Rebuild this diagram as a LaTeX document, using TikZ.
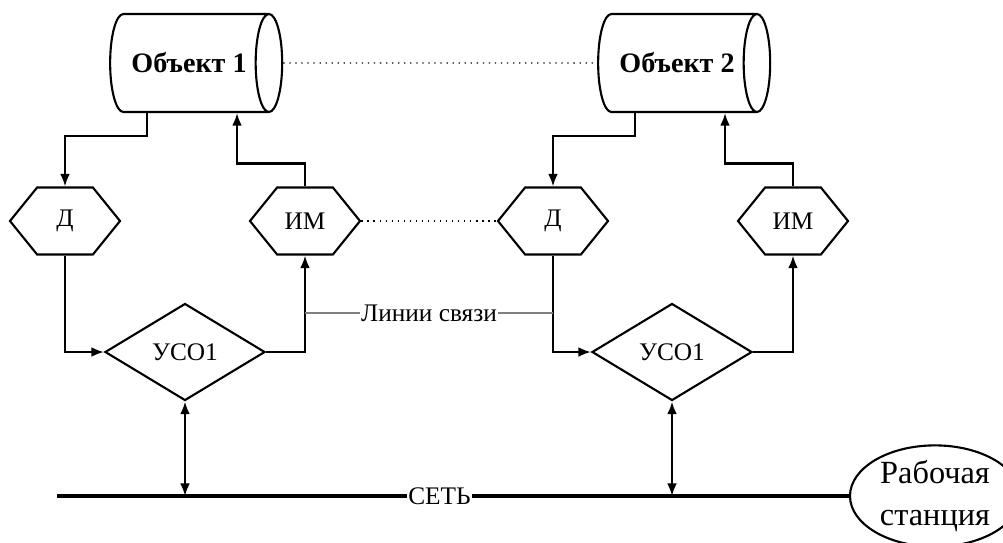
\documentclass[tikz,border=0pt]{standalone}
\usepackage{fontspec}
\setmainfont{Liberation Serif}
\usetikzlibrary{arrows.meta,positioning,shapes.geometric,shapes.symbols}

\begin{document}
\begin{tikzpicture}[
      x=0.025cm, y=-0.025cm,
      myobject/.style={
         cylinder,
         draw=black,
         line width=1.5pt,
         aspect=1.3,
         inner sep=0pt,
         minimum width=2.45cm,
         minimum height=4.3cm,
         font=\fontsize{20}{22}\selectfont\bfseries},
      myhex/.style={
         signal,
         signal to=east and west,
         signal pointer angle=102,
         draw=black,
         line width=1.5pt,
         inner sep=0pt,
         minimum width=2.75cm,
         minimum height=1.675cm,
         font=\fontsize{18}{21}\selectfont},
      mydiamond/.style={
         diamond,
         draw=black,
         line width=1.5pt,
         aspect=1.65,
         inner sep=0pt,
         minimum width=4cm,
         minimum height=2.425cm,
         font=\fontsize{18}{21}\selectfont},
      mystation/.style={
         ellipse,
         draw=black,
         line width=1.5pt,
         inner sep=0pt,
         minimum width=4.25cm,
         minimum height=2.5cm,
         align=center,
         font=\fontsize{23}{30}\selectfont},
      myarrow/.style={-{Latex[length=9pt,width=7pt]},line width=1.5pt},
      mydbl/.style={{Latex[length=9pt,width=7pt]}-{Latex[length=9pt,width=7pt]},line width=1.5pt},
      mydots/.style={line width=0.9pt,dash pattern=on 0.9pt off 3.4pt},
      mylabel/.style={fill=white,inner sep=1pt,font=\fontsize{18}{21}\selectfont}
      ]
      \useasboundingbox (0,0) rectangle (1003,542);

      \node[myobject] (ob1) at (189,63) {Объект 1\hspace{0.5cm}};
      \node[myobject] (ob2) at (677,63) {Объект 2\hspace{0.5cm}};

      \node[myhex] (d1) at (65,221) {Д};
      \node[myhex] (im1) at (305,221) {ИМ};
      \node[myhex] (d2) at (553,221) {Д};
      \node[myhex] (im2) at (793,221) {ИМ};

      \node[mydiamond] (uso1) at (185,352) {УСО1};
      \node[mydiamond] (uso2) at (672,352) {УСО1};

      \node[mystation] (ws) at (935,496) {Рабочая\\станция};

      \coordinate (net) at (57,496);
      \coordinate (n1) at (185,496);
      \coordinate (n2) at (672,496);
      \coordinate (l1) at (305,313);
      \coordinate (l2) at (553,313);

    \foreach \o/\d/\m in {ob1/d1/im1, ob2/d2/im2}{
      \draw[myarrow] ([shift={(-42,0)}]\o.south) -- ++(0,23) -| (\d.north);
      \draw[myarrow] (\m.north) -- ++(0,-23) -| ([shift={(48,0)}]\o.south);
    }

    \foreach \d/\u/\m in {d1/uso1/im1, d2/uso2/im2}{
      \draw[myarrow] (\d.south) |- (\u.west);
      \draw[myarrow] (\u.east) -| (\m.south);
    }

      \draw[mydbl] (uso1.south) -- (n1);
      \draw[mydbl] (uso2.south) -- (n2);

      \draw[mydots] (ob1.east) -- (ob2.west);
      \draw[mydots] (im1.east) -- (d2.west);

      \draw[gray,line width=1pt] (l1) -- node[mylabel,text=black] {Линии связи} (l2);
      \draw[line width=2.8pt] (net) -- node[mylabel,pos=0.483] {СЕТЬ} (ws.west);

    \end{tikzpicture}
\end{document}
